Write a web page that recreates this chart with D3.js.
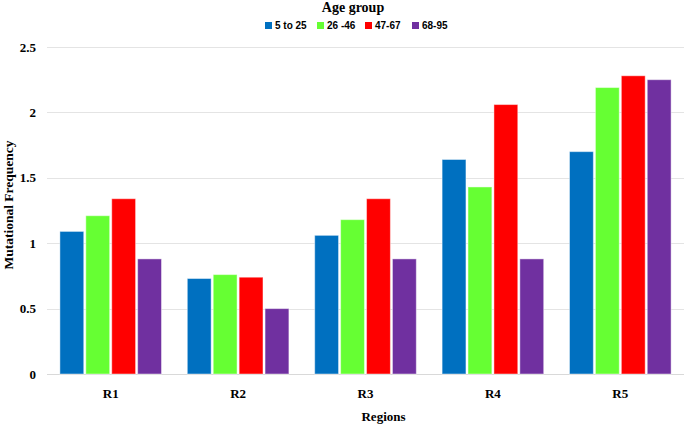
<!DOCTYPE html>
<html>
<head>
<meta charset="utf-8">
<script src="https://cdn.jsdelivr.net/npm/d3@7"></script>
<style>
    html, body { margin: 0; padding: 0; background: #fff; }
    svg { display: block; }
</style>
</head>
<body>
<div id="chart"></div>
<script>
var regions = ["R1", "R2", "R3", "R4", "R5"];
var ageGroups = ["5 to 25", "26 -46", "47-67", "68-95"];
var age5to25 = [1.09, 0.73, 1.06, 1.64, 1.70];
var age26to46 = [1.21, 0.76, 1.18, 1.43, 2.19];
var age47to67 = [1.34, 0.74, 1.34, 2.06, 2.28];
var age68to95 = [0.88, 0.50, 0.88, 0.88, 2.25];
var yTicks = [0, 0.5, 1, 1.5, 2, 2.5];
var colors = ["#0070C0", "#66FF33", "#FF0000", "#7030A0"];

(function () {
    "use strict";

    var w = 685, h = 426,
        margin = { top: 47, right: 1, bottom: 52, left: 47 },
        serif = "'Liberation Serif', 'Times New Roman', serif",
        sans = "'Liberation Sans', Arial, sans-serif";

    var series = [age5to25, age26to46, age47to67, age68to95];

    var svg = d3.select("#chart").append("svg")
        .attr("width", w)
        .attr("height", h);

    var x0 = d3.scaleBand()
        .domain(regions)
        .range([margin.left, w - margin.right])
        .paddingInner(0.17)
        .paddingOuter(0.085);

    var x1 = d3.scaleBand()
        .domain(ageGroups)
        .range([0, x0.bandwidth()])
        .padding(0.08);

    var y = d3.scaleLinear()
        .domain([0, 2.5])
        .range([h - margin.bottom, margin.top]);

    // gridlines
    svg.append("g").selectAll("line")
        .data(yTicks)
        .enter()
        .append("line")
        .attr("x1", margin.left)
        .attr("x2", w - margin.right)
        .attr("y1", function (d) { return Math.round(y(d)) + 0.5; })
        .attr("y2", function (d) { return Math.round(y(d)) + 0.5; })
        .attr("stroke", function (d) { return d === 0 ? "#d9d9d9" : "#e4e4e4"; })
        .attr("stroke-width", 1);

    // y tick labels
    var yAxis = d3.axisLeft(y)
        .tickValues(yTicks)
        .tickSize(0)
        .tickPadding(11)
        .tickFormat(function (d) { return d; });

    svg.append("g")
        .attr("transform", "translate(" + margin.left + ",0)")
        .call(yAxis)
        .call(function (g) { g.select(".domain").remove(); })
        .selectAll("text")
        .attr("font-family", serif)
        .attr("font-weight", "bold")
        .attr("font-size", 13)
        .attr("fill", "#000");

    // bars
    var groups = svg.append("g")
        .selectAll("g")
        .data(regions)
        .enter()
        .append("g")
        .attr("transform", function (d) { return "translate(" + x0(d) + ",0)"; });

    groups.selectAll("rect")
        .data(function (d, i) {
            return ageGroups.map(function (a, j) {
                return { key: a, value: series[j][i], idx: j };
            });
        })
        .enter()
        .append("rect")
        .attr("x", function (d) { return x1(d.key); })
        .attr("y", function (d) { return y(d.value); })
        .attr("width", x1.bandwidth())
        .attr("height", function (d) { return y(0) - y(d.value); })
        .attr("fill", function (d) { return colors[d.idx]; })
        .attr("stroke", "rgba(255,255,255,0.45)")
        .attr("stroke-width", 1);

    // x labels
    var xAxis = d3.axisBottom(x0).tickSize(0).tickPadding(15);
    svg.append("g")
        .attr("transform", "translate(0," + y(0) + ")")
        .call(xAxis)
        .call(function (g) { g.select(".domain").remove(); })
        .selectAll("text")
        .attr("font-family", serif)
        .attr("font-weight", "bold")
        .attr("font-size", 13)
        .attr("fill", "#000");

    // axis titles
    svg.append("text")
        .attr("x", (margin.left + w - margin.right) / 2 + 18)
        .attr("y", 421)
        .attr("text-anchor", "middle")
        .attr("font-family", serif)
        .attr("font-weight", "bold")
        .attr("font-size", 13)
        .text("Regions");

    svg.append("text")
        .attr("transform", "translate(13,205) rotate(-90)")
        .attr("text-anchor", "middle")
        .attr("font-family", serif)
        .attr("font-weight", "bold")
        .attr("font-size", 13.5)
        .text("Mutational Frequency");

    // legend
    svg.append("text")
        .attr("x", 353)
        .attr("y", 12)
        .attr("text-anchor", "middle")
        .attr("font-family", serif)
        .attr("font-weight", "bold")
        .attr("font-size", 14)
        .text("Age group");

    var legendX = [265, 317, 365, 412];
    var legend = svg.append("g")
        .selectAll("g")
        .data(ageGroups)
        .enter()
        .append("g")
        .attr("transform", function (d, i) { return "translate(" + legendX[i] + ",22)"; });

    legend.append("rect")
        .attr("width", 7)
        .attr("height", 7)
        .attr("fill", function (d, i) { return colors[i]; });

    legend.append("text")
        .attr("x", 10)
        .attr("y", 7)
        .attr("font-family", sans)
        .attr("font-weight", "bold")
        .attr("font-size", 10)
        .text(function (d) { return d; });
})();
</script>
</body>
</html>
